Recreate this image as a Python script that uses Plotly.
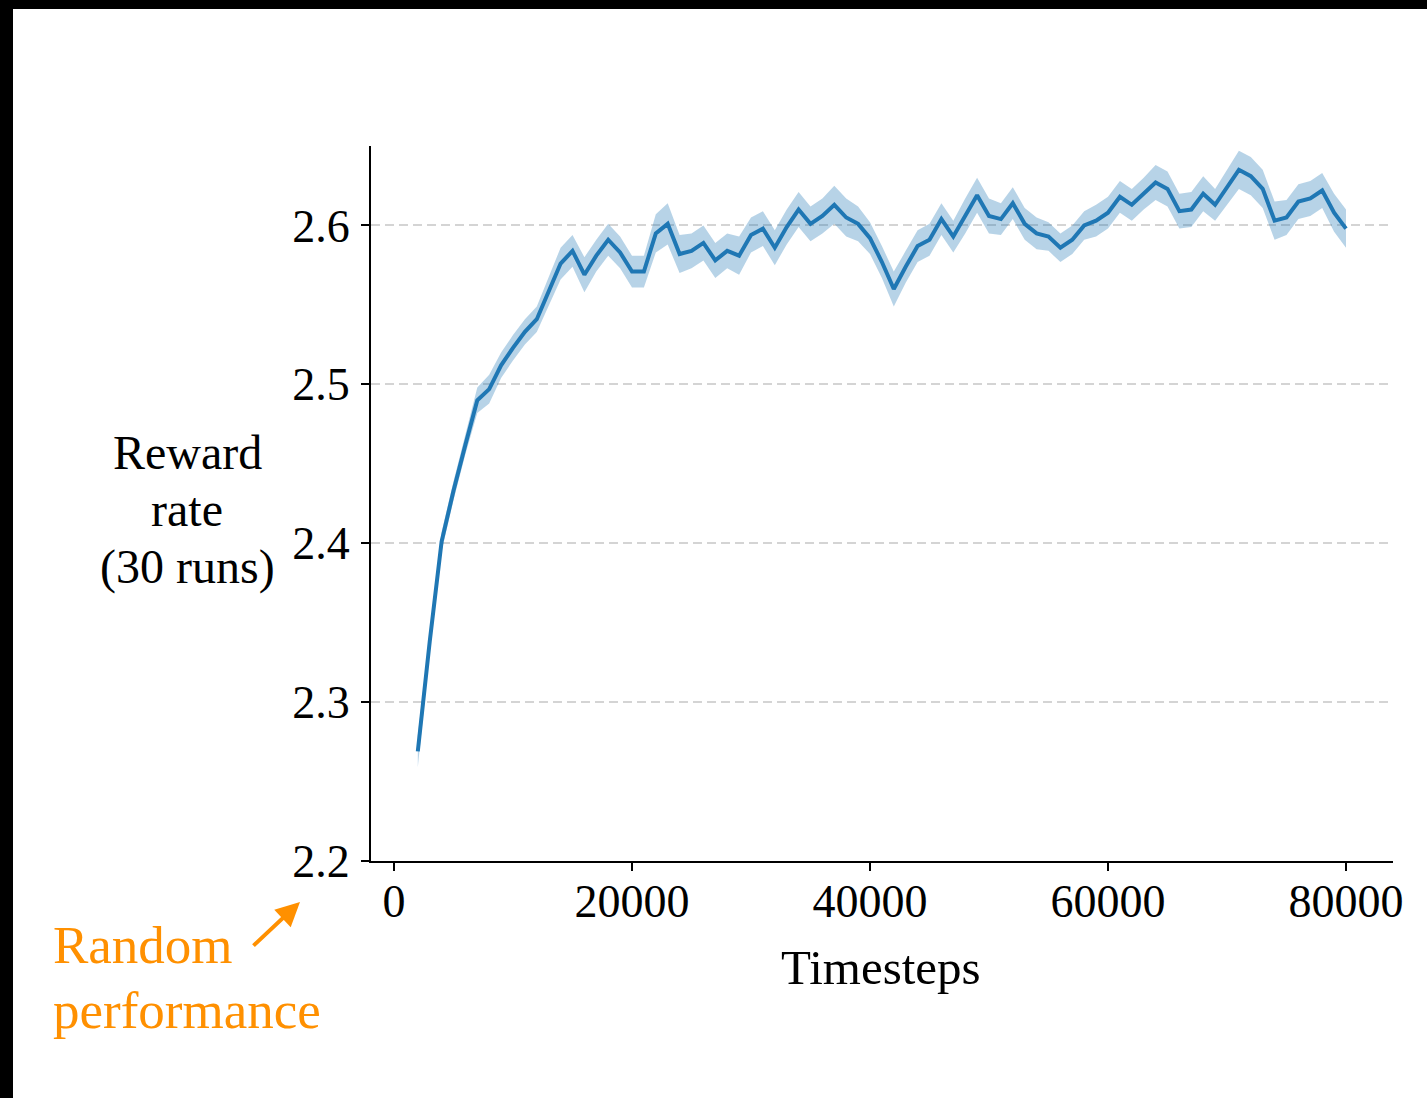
import plotly.graph_objects as go

# ---------------- data ----------------
timesteps = list(range(2000, 81000, 1000))

reward_mean = [
    2.269, 2.338, 2.401, 2.433, 2.462,
    2.490, 2.497, 2.512, 2.523, 2.533, 2.541, 2.559,
    2.576, 2.584, 2.569, 2.581, 2.591, 2.583, 2.571, 2.571,
    2.595, 2.601, 2.582, 2.584, 2.589, 2.578, 2.584, 2.581,
    2.594, 2.598, 2.586, 2.599, 2.610, 2.601, 2.606, 2.613,
    2.605, 2.601, 2.592, 2.577, 2.560, 2.574, 2.587, 2.591,
    2.604, 2.593, 2.606, 2.619, 2.606, 2.604, 2.614, 2.601,
    2.595, 2.593, 2.586, 2.591, 2.600, 2.603, 2.608, 2.618,
    2.613, 2.620, 2.627, 2.623, 2.609, 2.610, 2.620, 2.613,
    2.624, 2.635, 2.631, 2.623, 2.603, 2.605, 2.615, 2.617,
    2.622, 2.608, 2.598,
]

reward_err = [
    0.010, 0.006, 0.006, 0.006, 0.006,
    0.008, 0.009, 0.008, 0.008, 0.008, 0.008, 0.009,
    0.010, 0.010, 0.011, 0.010, 0.010, 0.010, 0.010, 0.010,
    0.012, 0.013, 0.012, 0.011, 0.011, 0.011, 0.011, 0.012,
    0.011, 0.011, 0.011, 0.011, 0.011, 0.011, 0.011, 0.012,
    0.012, 0.011, 0.010, 0.010, 0.011, 0.010, 0.010, 0.010,
    0.010, 0.010, 0.011, 0.011, 0.011, 0.010, 0.010, 0.010,
    0.010, 0.009, 0.009, 0.009, 0.009, 0.010, 0.010, 0.010,
    0.010, 0.010, 0.011, 0.011, 0.011, 0.011, 0.011, 0.010,
    0.011, 0.012, 0.012, 0.012, 0.012, 0.011, 0.011, 0.011,
    0.011, 0.012, 0.012,
]

x_tickvals = [0, 20000, 40000, 60000, 80000]
x_ticktext = ["0", "20000", "40000", "60000", "80000"]
y_tickvals = [2.2, 2.3, 2.4, 2.5, 2.6]
y_ticktext = ["2.2", "2.3", "2.4", "2.5", "2.6"]
ylabel_lines = ["Reward", "rate", "(30 runs)"]
note_lines = ["Random", "performance"]

upper = [m + e for m, e in zip(reward_mean, reward_err)]
lower = [m - e for m, e in zip(reward_mean, reward_err)]

# ---------------- geometry (pixels) ----------------
W, H = 1427, 1098
L, R, T, B = 371, 1393, 146, 861
pw, ph = R - L, B - T


def px(x):
    return (x - L) / pw


def py(y):
    return (B - y) / ph


FONT = "Liberation Serif, Times New Roman, serif"
BLUE = "#1f77b4"
ORANGE = "#ff9000"

fig = go.Figure()
fig.add_trace(go.Scatter(x=timesteps, y=lower, mode="lines",
                         line=dict(width=0), hoverinfo="skip"))
fig.add_trace(go.Scatter(x=timesteps, y=upper, mode="lines",
                         line=dict(width=0), fill="tonexty",
                         fillcolor="rgba(31,119,180,0.32)", hoverinfo="skip"))
fig.add_trace(go.Scatter(x=timesteps, y=reward_mean, mode="lines",
                         line=dict(color=BLUE, width=4)))

fig.update_layout(
    width=W, height=H,
    margin=dict(l=L, r=W - R, t=T, b=H - B, autoexpand=False),
    paper_bgcolor="black",
    plot_bgcolor="white",
    showlegend=False,
    font=dict(family=FONT, size=46, color="black"),
    shapes=[dict(type="rect", xref="paper", yref="paper", layer="below",
                 x0=px(13), x1=px(W + 5), y0=py(H + 5), y1=py(9),
                 fillcolor="white", line=dict(width=0))],
)

fig.update_xaxes(
    range=[-1933, 83950],
    tickvals=x_tickvals, ticktext=x_ticktext,
    showline=True, linecolor="black", linewidth=2,
    ticks="outside", ticklen=8, tickwidth=2, tickcolor="black",
    showgrid=False, zeroline=False,
    ticklabelstandoff=-9,
    tickfont=dict(family=FONT, size=46, color="black"),
)
fig.update_yaxes(
    range=[2.2, 2.65],
    tickvals=y_tickvals, ticktext=y_ticktext,
    showline=True, linecolor="black", linewidth=2,
    ticks="outside", ticklen=8, tickwidth=2, tickcolor="black",
    showgrid=True, gridcolor="#d4d4d4", gridwidth=1.5, griddash="9px,5px",
    zeroline=False,
    ticklabelstandoff=2,
    tickfont=dict(family=FONT, size=46, color="black"),
)

for txt, yc in zip(ylabel_lines, [452.8, 510, 567.2]):
    fig.add_annotation(text=txt, xref="paper", yref="paper",
                       x=px(187), y=py(yc), xanchor="center", yanchor="middle",
                       showarrow=False,
                       font=dict(family=FONT, size=48, color="black"))
fig.add_annotation(text="Timesteps", xref="paper", yref="paper",
                   x=px(881), y=py(967), xanchor="center", yanchor="middle",
                   showarrow=False,
                   font=dict(family=FONT, size=49, color="black"))
for txt, yc in zip(note_lines, [945, 1010]):
    fig.add_annotation(text=txt, xref="paper", yref="paper",
                       x=px(51), y=py(yc), xanchor="left", yanchor="middle",
                       showarrow=False, align="left",
                       font=dict(family=FONT, size=53, color=ORANGE))
fig.add_annotation(text="", xref="paper", yref="paper",
                   x=px(300), y=py(902), ax=-48, ay=45,
                   showarrow=True, arrowhead=2, arrowsize=1.2, arrowwidth=4,
                   arrowcolor=ORANGE, standoff=0)

fig.write_html("out.html", config={"displayModeBar": False},
               post_script="document.body.style.margin='0';")
